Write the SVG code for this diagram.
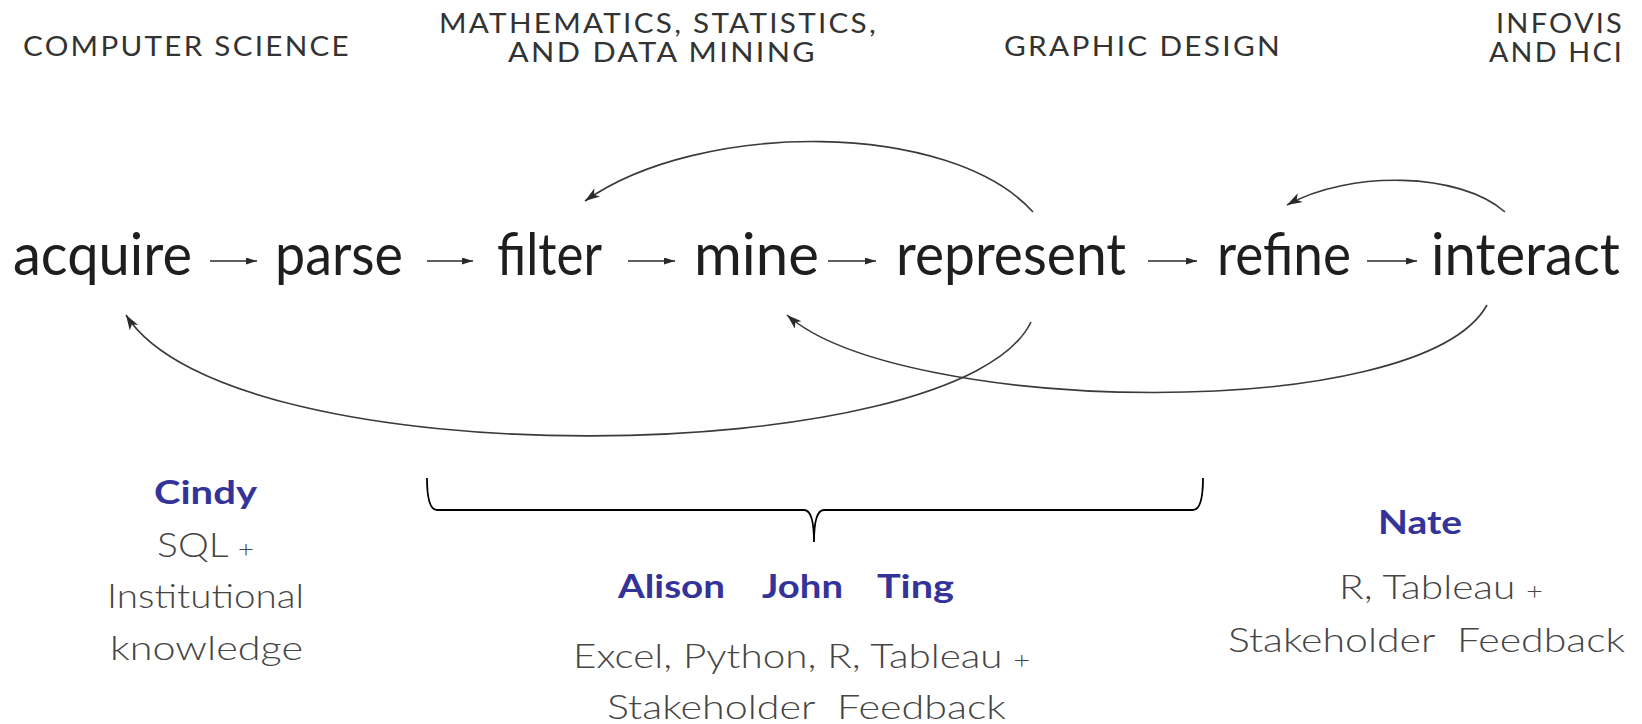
<svg xmlns="http://www.w3.org/2000/svg" width="1642" height="724" viewBox="0 0 1642 724">
<style>
.hdr{font-family:Lato,"Liberation Sans",sans-serif;font-size:26px;fill:#333;letter-spacing:2px}
.step{font-family:Lato,"Liberation Sans",sans-serif;font-size:58px;fill:#1e1e1e}
.name{font-family:Lato,"Liberation Sans",sans-serif;font-size:33px;font-weight:bold;fill:#33339a}
.tool{font-family:Lato,"Liberation Sans",sans-serif;font-size:34px;font-weight:300;fill:#454545}
.plus{font-size:24px}
.flow{fill:none;stroke:#2a2a2a;stroke-width:1.6}
.loop{fill:none;stroke:#3a3a3a;stroke-width:1.6}
.brace{fill:none;stroke:#000;stroke-width:1.8}
</style>
<defs>
<marker id="ah" markerUnits="userSpaceOnUse" markerWidth="12" markerHeight="8" refX="11" refY="3.5" orient="auto">
<path d="M0,0 L11,3.5 L0,7 z" fill="#2a2a2a"/>
</marker>
<marker id="ahc" markerUnits="userSpaceOnUse" markerWidth="16" markerHeight="12" refX="15" refY="5" orient="auto">
<path d="M0,0 L15,5 L0,10 L4,5 z" fill="#2a2a2a"/>
</marker>
</defs>

<g id="headers">
<text class="hdr" x="23" y="56" textLength="328" lengthAdjust="spacingAndGlyphs">COMPUTER SCIENCE</text>
<text class="hdr" x="439" y="33" textLength="439" lengthAdjust="spacingAndGlyphs">MATHEMATICS, STATISTICS,</text>
<text class="hdr" x="508" y="62" textLength="309" lengthAdjust="spacingAndGlyphs">AND DATA MINING</text>
<text class="hdr" x="1004" y="56" textLength="278" lengthAdjust="spacingAndGlyphs">GRAPHIC DESIGN</text>
<text class="hdr" x="1496" y="33" textLength="128" lengthAdjust="spacingAndGlyphs">INFOVIS</text>
<text class="hdr" x="1489" y="62" textLength="135" lengthAdjust="spacingAndGlyphs">AND HCI</text>
</g>

<g id="acquire"><text class="step" x="13" y="275" textLength="179" lengthAdjust="spacingAndGlyphs">acquire</text></g>
<g id="parse"><text class="step" x="275" y="275" textLength="128" lengthAdjust="spacingAndGlyphs">parse</text></g>
<g id="filter"><text class="step" x="497" y="275" textLength="105" lengthAdjust="spacingAndGlyphs">filter</text></g>
<g id="mine"><text class="step" x="694" y="275" textLength="125" lengthAdjust="spacingAndGlyphs">mine</text></g>
<g id="represent"><text class="step" x="896" y="275" textLength="230" lengthAdjust="spacingAndGlyphs">represent</text></g>
<g id="refine"><text class="step" x="1217" y="275" textLength="134" lengthAdjust="spacingAndGlyphs">refine</text></g>
<g id="interact"><text class="step" x="1431" y="275" textLength="189" lengthAdjust="spacingAndGlyphs">interact</text></g>

<g id="connectors">
<line class="flow" x1="210" y1="261" x2="257" y2="261" marker-end="url(#ah)"/>
<line class="flow" x1="427" y1="261" x2="473" y2="261" marker-end="url(#ah)"/>
<line class="flow" x1="628" y1="261" x2="675" y2="261" marker-end="url(#ah)"/>
<line class="flow" x1="828" y1="261" x2="876" y2="261" marker-end="url(#ah)"/>
<line class="flow" x1="1148" y1="261" x2="1197" y2="261" marker-end="url(#ah)"/>
<line class="flow" x1="1367" y1="261" x2="1417" y2="261" marker-end="url(#ah)"/>
<path class="loop" d="M1033,212 C950,120 700,120 585,201" marker-end="url(#ahc)"/>
<path class="loop" d="M1505,212 C1460,172 1350,170 1287,205" marker-end="url(#ahc)"/>
<path class="loop" d="M1031,322 C960,470 230,480 126,315" marker-end="url(#ahc)"/>
<path class="loop" d="M1487,305 C1420,425 900,415 787,315" marker-end="url(#ahc)"/>
</g>

<g id="bracket">
<path class="brace" d="M427,478 Q427,510 437,510 L804,510 Q814,510 814,542 Q814,510 824,510 L1193,510 Q1203,510 1203,478"/>
</g>

<g id="cindy">
<text class="name" x="154" y="504" textLength="103" lengthAdjust="spacingAndGlyphs">Cindy</text>
<text class="tool" x="157" y="557" textLength="97" lengthAdjust="spacingAndGlyphs">SQL <tspan class="plus">+</tspan></text>
<text class="tool" x="107" y="608" textLength="197" lengthAdjust="spacingAndGlyphs">Institutional</text>
<text class="tool" x="110" y="660" textLength="193" lengthAdjust="spacingAndGlyphs">knowledge</text>
</g>

<g id="team">
<text class="name" y="598"><tspan x="618" textLength="107" lengthAdjust="spacingAndGlyphs">Alison</tspan><tspan x="762" textLength="81" lengthAdjust="spacingAndGlyphs">John</tspan><tspan x="877" textLength="77" lengthAdjust="spacingAndGlyphs">Ting</tspan></text>
<text class="tool" x="573" y="668" textLength="457" lengthAdjust="spacingAndGlyphs">Excel, Python, R, Tableau <tspan class="plus">+</tspan></text>
<text class="tool" x="607" y="719" textLength="399" lengthAdjust="spacingAndGlyphs" xml:space="preserve">Stakeholder  Feedback</text>
</g>

<g id="nate">
<text class="name" x="1378" y="534" textLength="84" lengthAdjust="spacingAndGlyphs">Nate</text>
<text class="tool" x="1339" y="599" textLength="204" lengthAdjust="spacingAndGlyphs">R, Tableau <tspan class="plus">+</tspan></text>
<text class="tool" x="1228" y="652" textLength="397" lengthAdjust="spacingAndGlyphs" xml:space="preserve">Stakeholder  Feedback</text>
</g>
</svg>
